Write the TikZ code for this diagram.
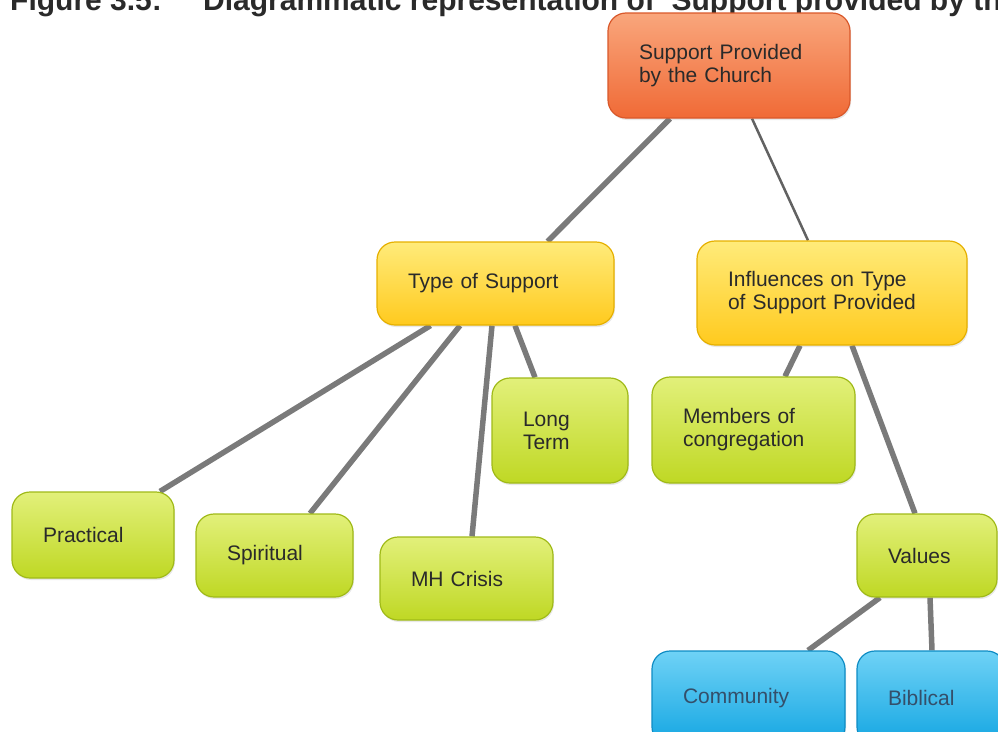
\documentclass[tikz,border=0pt]{standalone}
\usepackage{fontspec}
\setmainfont{Liberation Sans}
\usetikzlibrary{backgrounds,shadows}
\definecolor{orT}{HTML}{F9A67C}
\definecolor{orB}{HTML}{F06A36}
\definecolor{orD}{HTML}{D9582A}
\definecolor{yeT}{HTML}{FFEB7A}
\definecolor{yeB}{HTML}{FFCA1E}
\definecolor{yeD}{HTML}{E6B000}
\definecolor{grT}{HTML}{E2F07A}
\definecolor{grB}{HTML}{BFD824}
\definecolor{grD}{HTML}{A0BA18}
\definecolor{blT}{HTML}{6FD2F6}
\definecolor{blB}{HTML}{14A6E2}
\definecolor{blD}{HTML}{0E8CC4}
\definecolor{txt}{HTML}{2A2A2A}
\definecolor{bltxt}{HTML}{344F6A}
\definecolor{lineC}{HTML}{7A7A7A}
\tikzset{
  box/.style={rounded corners=18pt, line width=1.2pt, inner xsep=31pt, inner ysep=0pt,
    align=left, text=txt, font=\fontsize{21}{23}\selectfont,
    drop shadow={opacity=0.18, shadow xshift=1pt, shadow yshift=-2pt}},
  orangebox/.style={box, draw=orD, top color=orT, bottom color=orB},
  yellowbox/.style={box, draw=yeD, top color=yeT, bottom color=yeB},
  greenbox/.style={box, draw=grD, top color=grT, bottom color=grB},
  bluebox/.style={box, draw=blD, top color=blT, bottom color=blB, text=bltxt},
  conn/.style={draw=lineC, line width=5.5pt},
  thinconn/.style={draw=lineC!80!black, line width=2.5pt},
  titlefont/.style={anchor=base west, inner sep=0pt, text=txt,
    font=\fontsize{30}{30}\selectfont\bfseries}
}
\begin{document}
\begin{tikzpicture}[x=1pt,y=-1pt]
\useasboundingbox (0,0) rectangle (998,731);

\node[titlefont] (fig) at (10,10) {Figure 3.5:};
\node[titlefont] (title) at (203,10) {Diagrammatic representation of ‘Support provided by th};

\node[orangebox, minimum width=242pt, minimum height=105pt, text width=180pt] (root) at (729,65.5) {Support Provided\\by the Church};
\node[yellowbox, minimum width=237pt, minimum height=83pt, text width=175pt] (type) at (495.5,283.5) {Type of Support};
\node[yellowbox, minimum width=270pt, minimum height=104pt, text width=208pt] (infl) at (832,293) {Influences on Type\\of Support Provided};
\node[greenbox, minimum width=136pt, minimum height=105pt, text width=74pt] (long) at (560,430.5) {Long\\Term};
\node[greenbox, minimum width=203pt, minimum height=106pt, text width=141pt] (members) at (753.5,430) {Members of\\congregation};
\node[greenbox, minimum width=162pt, minimum height=86pt, text width=100pt] (practical) at (93,535) {Practical};
\node[greenbox, minimum width=157pt, minimum height=83pt, text width=95pt] (spiritual) at (274.5,555.5) {Spiritual};
\node[greenbox, minimum width=173pt, minimum height=83pt, text width=111pt] (mh) at (466.5,578.5) {MH Crisis};
\node[greenbox, minimum width=140pt, minimum height=83pt, text width=78pt] (values) at (927,555.5) {Values};
\node[bluebox, minimum width=193pt, minimum height=94pt, text width=131pt] (community) at (748.5,698) {Community};
\node[bluebox, minimum width=148pt, minimum height=94pt, text width=86pt] (biblical) at (931,698) {Biblical};

\begin{scope}[on background layer]
\draw[conn] ([xshift=-59pt]root.south) -- ([xshift=52pt]type.north);
\draw[thinconn] ([xshift=23pt]root.south) -- ([xshift=-24pt]infl.north);
\draw[conn] ([xshift=-65pt]type.south) -- ([xshift=67pt]practical.north);
\draw[conn] ([xshift=-35.5pt]type.south) -- ([xshift=35.5pt]spiritual.north);
\draw[conn] ([xshift=-3.5pt]type.south) -- ([xshift=5.5pt]mh.north);
\draw[conn] ([xshift=19.5pt]type.south) -- ([xshift=-25pt]long.north);
\draw[conn] ([xshift=-32pt]infl.south) -- ([xshift=31.5pt]members.north);
\draw[conn] ([xshift=20pt]infl.south) -- ([xshift=-12pt]values.north);
\draw[conn] ([xshift=-47pt]values.south) -- ([xshift=59.5pt]community.north);
\draw[conn] ([xshift=3pt]values.south) -- ([xshift=1pt]biblical.north);
\end{scope}
\end{tikzpicture}
\end{document}
